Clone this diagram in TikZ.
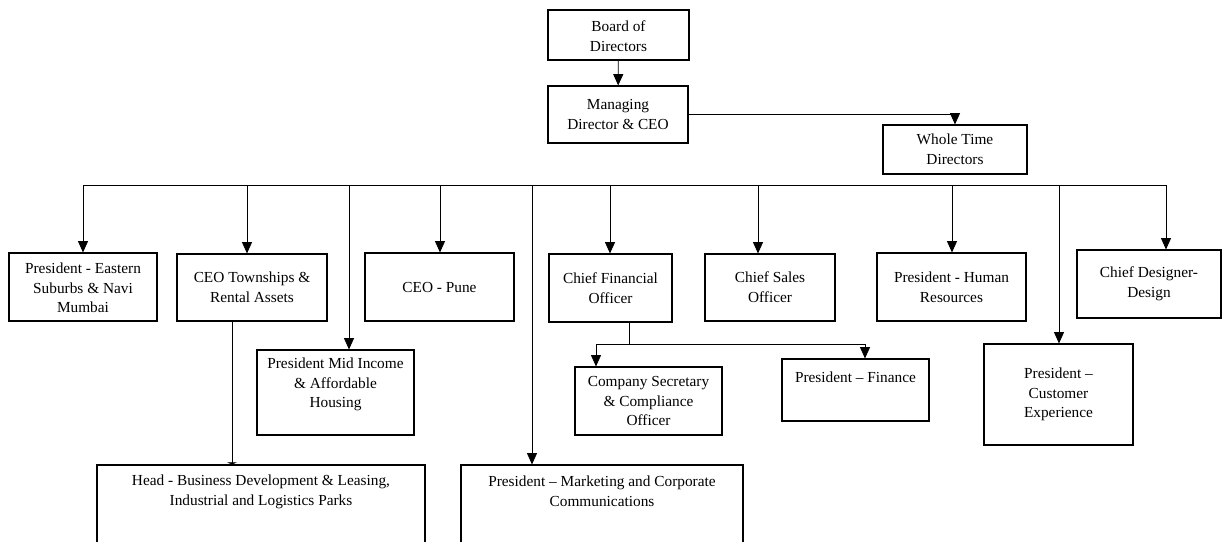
\documentclass[tikz,border=0pt]{standalone}
\usepackage{fontspec}
\setmainfont{Liberation Serif}
\usetikzlibrary{arrows.meta,fit}
\newcommand\orgfont{\fontsize{11.5}{14.8}\selectfont}
\begin{document}
\begin{tikzpicture}[x=0.75pt,y=-0.75pt,
  box/.style={draw,line width=0.8pt,inner sep=0pt},
  boxtext/.style={align=center,font=\orgfont,inner sep=0pt},
  link/.style={line width=0.6pt},
  arr/.style={link,-{Triangle[width=7.5pt,length=8.5pt]}},
  stub/.style={link,-{Triangle[width=7pt,length=1.5pt]}}]
\useasboundingbox (0,0) rectangle (1222,542);

% top of the hierarchy
\node[box, fit={(548,10) (689,60)}] (bod) {};
\node[boxtext] (bodT) at ([yshift=-0.75pt]bod.center) {Board of\\Directors};
\node[box, fit={(548,86) (688,143)}] (md) {};
\node[boxtext] (mdT) at (md.center) {Managing\\Director \& CEO};
\node[box, fit={(883,125) (1027,174)}] (wtd) {};
\node[boxtext] (wtdT) at (wtd.center) {Whole Time\\Directors};

% second level
\node[box, fit={(9,253) (157,321)}] (pes) {};
\node[boxtext] (pesT) at ([yshift=-0.75pt]pes.center) {President - Eastern\\Suburbs \& Navi\\Mumbai};
\node[box, fit={(177,254) (327,321)}] (ctr) {};
\node[boxtext] (ctrT) at (ctr.center) {CEO Townships \&\\Rental Assets};
\node[box, fit={(365,253) (514,321)}] (cpn) {};
\node[boxtext] (cpnT) at (cpn.center) {CEO - Pune};
\node[box, fit={(549,254) (672,322)}] (cfo) {};
\node[boxtext] (cfoT) at (cfo.center) {Chief Financial\\Officer};
\node[box, fit={(705,254) (835,321)}] (cso) {};
\node[boxtext] (csoT) at (cso.center) {Chief Sales\\Officer};
\node[box, fit={(877,253) (1026,321)}] (phr) {};
\node[boxtext] (phrT) at (phr.center) {President - Human\\Resources};
\node[box, fit={(1077,250) (1221,318)}] (cdd) {};
\node[boxtext] (cddT) at (cdd.center) {Chief Designer-\\Design};

% lower boxes
\node[box, fit={(257,350) (414,435)}] (pmi) {};
\node[boxtext] (pmiT) at ([yshift=-26.25pt]pmi.north) {President Mid Income\\\& Affordable\\Housing};
\node[box, fit={(575,367) (722,435)}] (csc) {};
\node[boxtext] (cscT) at (csc.center) {Company Secretary\\\& Compliance\\Officer};
\node[box, fit={(782,359) (929,421)}] (pfn) {};
\node[boxtext] (pfnT) at ([yshift=-14.25pt]pfn.north) {President -- Finance};
\node[box, fit={(984,344) (1133,445)}] (pce) {};
\node[boxtext] (pceT) at (pce.center) {President --\\Customer\\Experience};
\node[box, fit={(97,465) (425,580)}] (hbd) {};
\node[boxtext] (hbdT) at ([yshift=-20.25pt]hbd.north) {Head - Business Development \& Leasing,\\Industrial and Logistics Parks};
\node[box, fit={(461,465) (743,580)}] (pmc) {};
\node[boxtext] (pmcT) at ([yshift=-20.25pt]pmc.north) {President -- Marketing and Corporate\\Communications};

% board and managing director
\draw[arr] (bod) -- (md);
\draw[arr] (md.east) -| (wtd.north);

% distribution bus
\coordinate (busL) at (83,185);
\coordinate (busR) at (1166,185);
\coordinate (d2) at (247,185);
\coordinate (d3) at (349,185);
\coordinate (d4) at (440,185);
\coordinate (d5) at (532,185);
\coordinate (d6) at (610,185);
\coordinate (d7) at (758,185);
\coordinate (d8) at (952,185);
\coordinate (d9) at (1059,185);
\draw[link] (busL) -- (busR);
\draw[arr] (busL) -- (busL |- pes.north);
\draw[arr] (d2) -- (d2 |- ctr.north);
\draw[arr] (d3) -- (d3 |- pmi.north);
\draw[arr] (d4) -- (d4 |- cpn.north);
\draw[arr] (d5) -- (d5 |- pmc.north);
\draw[arr] (d6) -- (d6 |- cfo.north);
\draw[arr] (d7) -- (d7 |- cso.north);
\draw[arr] (d8) -- (d8 |- phr.north);
\draw[arr] (d9) -- (d9 |- pce.north);
\draw[arr] (busR) -- (busR |- cdd.north);

% chief financial officer branch
\coordinate (cfoJ) at (629,344);
\coordinate (cfoL) at (596,344);
\coordinate (cfoR) at (865,344);
\draw[link] (cfoJ |- cfo.south) -- (cfoJ);
\draw[link] (cfoL) -- (cfoR);
\draw[arr] (cfoL) -- (cfoL |- csc.north);
\draw[arr] (cfoR) -- (cfoR |- pfn.north);

% townships branch
\coordinate (twn) at (232,400);
\draw[stub] (twn |- ctr.south) -- (twn |- hbd.north);
\end{tikzpicture}
\end{document}
